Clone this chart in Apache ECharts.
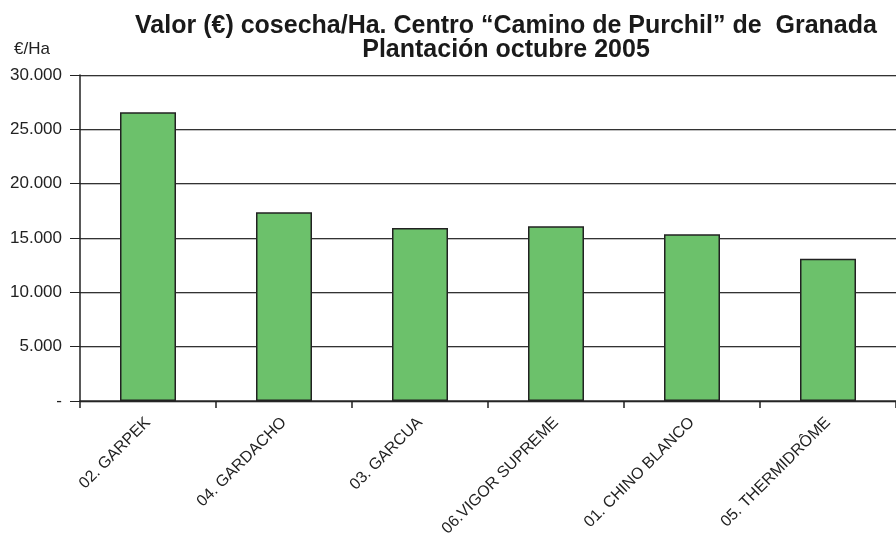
<!DOCTYPE html>
<html>
<head>
<meta charset="utf-8">
<script src="https://cdn.jsdelivr.net/npm/echarts@6/dist/echarts.min.js"></script>
<style>html,body{margin:0;padding:0;background:#fff}#c{width:896px;height:546px}</style>
</head>
<body>
<div id="c"></div>
<script>
var categories = ['02. GARPEK', '04. GARDACHO', '03. GARCUA', '06.VIGOR SUPREME', '01. CHINO BLANCO', '05. THERMIDRÔME'];
var values = [26570, 17360, 15920, 16070, 15340, 13100];
var titleLines = ['Valor (€) cosecha/Ha. Centro “Camino de Purchil” de  Granada', 'Plantación octubre 2005'];
var unitLabel = '€/Ha';

function fmt(v) {
  if (v === 0) return '-';
  var s = String(Math.round(v));
  return s.replace(/\B(?=(\d{3})+(?!\d))/g, '.');
}

var chart = echarts.init(document.getElementById('c'), null, {renderer: 'canvas'});
chart.setOption({
  backgroundColor: '#ffffff',
  animation: false,
  title: {
    text: titleLines.join('\n'),
    left: 501,
    top: 9,
    textAlign: 'center',
    textStyle: {fontFamily: 'Liberation Sans', fontWeight: 'bold', fontSize: 25, color: '#1a1a1a', lineHeight: 24}
  },
  graphic: [{
    type: 'text', left: 14, top: 41,
    style: {text: unitLabel, font: '17px "Liberation Sans"', fill: '#222'}
  }],
  grid: {left: 80, top: 75, width: 821, height: 326},
  xAxis: {
    type: 'category',
    data: categories,
    axisLine: {show: true, lineStyle: {color: '#222', width: 1.5}},
    axisTick: {show: true, alignWithLabel: false, length: 7, lineStyle: {color: '#222', width: 1.5}},
    axisLabel: {rotate: 45, interval: 0, margin: 19, fontFamily: 'Liberation Sans', fontSize: 16, color: '#222'},
    splitLine: {show: false}
  },
  yAxis: {
    type: 'value',
    min: 0, max: 30000, interval: 5000,
    axisLine: {show: true, lineStyle: {color: '#222', width: 1.5}},
    axisTick: {show: true, length: 10, lineStyle: {color: '#222', width: 1}},
    axisLabel: {formatter: fmt, margin: 18, fontFamily: 'Liberation Sans', fontSize: 17, color: '#222'},
    splitLine: {show: true, lineStyle: {color: '#333', width: 1.2, shadowColor: 'rgba(0,0,0,0.25)', shadowOffsetY: 1, shadowBlur: 0}}
  },
  series: [{
    type: 'bar',
    data: values,
    barWidth: 56,
    itemStyle: {color: '#6cc16b', borderColor: '#222', borderWidth: 1.5}
  }]
});
</script>
</body>
</html>
